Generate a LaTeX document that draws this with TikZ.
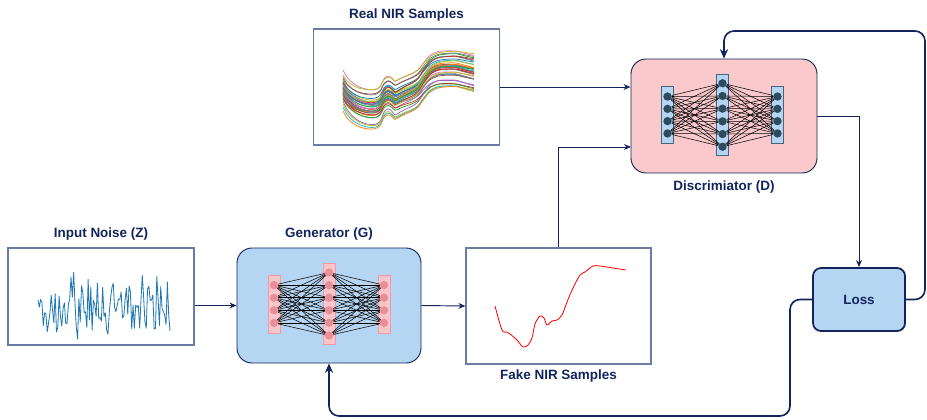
\documentclass[tikz,border=0pt]{standalone}
\usepackage{fontspec}
\setmainfont{Liberation Sans}
\usepackage{tikz}
\usetikzlibrary{arrows.meta,positioning}
\definecolor{navy}{HTML}{13245C}
\definecolor{plotframe}{HTML}{6A7BA6}
\definecolor{genfill}{HTML}{B5D6F2}
\definecolor{discfill}{HTML}{F9C9CC}
\definecolor{gbarfill}{HTML}{F8C6CA}
\definecolor{gbarline}{HTML}{F09CA2}
\definecolor{gdotfill}{HTML}{E98E98}
\definecolor{dbarline}{HTML}{4A6378}
\definecolor{ddotfill}{HTML}{2D4B5E}
\definecolor{tblue}{HTML}{1F77B4}
\definecolor{torange}{HTML}{FF7F0E}
\definecolor{tgreen}{HTML}{2CA02C}
\definecolor{tred}{HTML}{D62728}
\definecolor{tpurple}{HTML}{9467BD}
\definecolor{tbrown}{HTML}{8C564B}
\definecolor{tpink}{HTML}{E377C2}
\definecolor{tgray}{HTML}{7F7F7F}
\definecolor{tolive}{HTML}{BCBD22}
\definecolor{tcyan}{HTML}{17BECF}
\tikzset{
  plotbox/.style={draw=plotframe,line width=0.9pt,fill=white,inner sep=0pt},
  netbox/.style={draw=navy,line width=0.8pt,rounded corners=0.45cm,inner sep=0pt},
  lbl/.style={text=navy,font=\fontsize{11.5}{13}\selectfont\bfseries,inner sep=0pt},
  gbar/.style={rectangle,draw=gbarline,fill=gbarfill,line width=0.6pt,minimum width=0.36cm,inner sep=0pt},
  gdot/.style={circle,fill=gdotfill,minimum size=0.25cm,inner sep=0pt},
  dbar/.style={rectangle,draw=dbarline,fill=genfill,line width=0.6pt,minimum width=0.34cm,inner sep=0pt},
  ddot/.style={circle,fill=ddotfill,minimum size=0.25cm,inner sep=0pt},
  wire/.style={black,line width=0.45pt},
  flow/.style={draw=navy,line width=0.8pt,-{Stealth[length=6pt,width=5pt]}},
  lossflow/.style={draw=navy,line width=1.4pt,rounded corners=0.3cm,-{Stealth[length=8pt,width=7pt]}},
}

\begin{document}
\begin{tikzpicture}[x=0.03cm,y=-0.03cm]
\useasboundingbox (0,0) rectangle (927,419);
% boxes
\node (noise) [plotbox,minimum width=5.58cm,minimum height=2.91cm] at (101,296.5) {};
\node (gen) [netbox,fill=genfill,minimum width=5.52cm,minimum height=3.45cm] at (329,305.5) {};
\node (real) [plotbox,minimum width=5.58cm,minimum height=3.48cm] at (406.5,87) {};
\node (disc) [netbox,fill=discfill,minimum width=5.58cm,minimum height=3.42cm] at (724,116) {};
\node (fake) [plotbox,minimum width=5.55cm,minimum height=3.48cm] at (558.5,306) {};
\node (loss) [draw=navy,line width=1.5pt,fill=genfill,rounded corners=0.24cm,
  minimum width=2.76cm,minimum height=1.89cm,lbl] at (859,299.5) {Loss};
%
\node (noiselbl) [lbl,above=0.2cm of noise] {Input Noise (Z)};
\node (genlbl) [lbl,above=0.2cm of gen] {Generator (G)};
\node (reallbl) [lbl,above=0.22cm of real] {Real NIR Samples};
\node (disclbl) [lbl,below=0.22cm of disc] {Discrimiator (D)};
\node (fakelbl) [lbl,below=0.15cm of fake] {Fake NIR Samples};

% generator network
\node (gbarA) [gbar,minimum height=1.74cm] at (274,304) {};
\node (gbarB) [gbar,minimum height=2.43cm] at (329,304) {};
\node (gbarC) [gbar,minimum height=1.74cm] at (384,304) {};
\foreach \i in {1,...,4} {
  \node (gA\i) [gdot] at (274,{304+(\i-2.5)*12.6}) {};
  \node (gC\i) [gdot] at (384,{304+(\i-2.5)*12.6}) {};
}
\foreach \j in {1,...,6}
  \node (gB\j) [gdot] at (329,{304+(\j-3.5)*12.6}) {};
\foreach \i in {1,...,4}
  \foreach \j in {1,...,6}
    \draw[wire] (gA\i) -- (gB\j) (gB\j) -- (gC\i);

% discriminator network
\node (dbarA) [dbar,minimum height=1.71cm] at (667.5,115) {};
\node (dbarB) [dbar,minimum height=2.43cm] at (722.5,115) {};
\node (dbarC) [dbar,minimum height=1.71cm] at (777.5,115) {};
\foreach \i in {1,...,4} {
  \node (dA\i) [ddot] at (667.5,{115+(\i-2.5)*12.3}) {};
  \node (dC\i) [ddot] at (777.5,{115+(\i-2.5)*12.3}) {};
}
\foreach \j in {1,...,6}
  \node (dB\j) [ddot] at (722.5,{115+(\j-3.5)*12.7}) {};
\foreach \i in {1,...,4}
  \foreach \j in {1,...,6}
    \draw[wire] (dA\i) -- (dB\j) (dB\j) -- (dC\i);

% noise signal
\pgfmathsetseed{11}
\draw[tblue,line width=0.7pt,line join=round] (38,300)
  \foreach \k in {1,...,100} { -- ({38+1.32*\k},{305+20*(rand+rand)}) };

% real spectra
\pgfmathsetseed{5}
\foreach \d/\c in {0/tpink,5/tolive,7/tgray,9/tbrown,10/tcyan,11/tolive,12/tblue,
  12.5/tgreen,13/tred,14/tpurple,14.5/tbrown,15/tpink,15.5/tgray,16/tolive,
  16.5/tcyan,17/tblue,17.5/torange,18/tgreen,18.5/tred,19/tpurple,19.5/tbrown,
  20/tpink,20.5/tgray,21/tolive,21.5/tcyan,22/tblue,22.5/torange,23/tgreen,
  23.5/tred,24/tpurple,25/tbrown,26/tgray,27/tolive,28/tred,29/tgreen,
  31/tpurple,34/tolive,37/tcyan,41/torange} {
  \pgfmathsetmacro\tilt{7*rand}
  \pgfmathsetmacro\amp{1+0.18*rand}
  \draw[\c,line width=0.65pt,shift={(343,{70+\d})},yslant={-\tilt/131},yscale=\amp]
    plot[smooth,tension=0.5] coordinates {
    (0,0) (4,7) (10,13) (17,17) (25,19) (32,19) (37,16) (41,8) (45,5) (49,7)
    (52,10) (56,8) (62,5) (69,2) (75,-2) (81,-10) (87,-17) (95,-21) (104,-22)
    (113,-22) (122,-20) (131,-18)};
}

% fake spectrum
\draw[red,line width=0.7pt] plot[smooth,tension=0.5] coordinates {
  (495,306) (502,330) (507,332) (510,334) (517,340) (523,347) (528,345)
  (532,338) (535,324) (540,316) (544,318) (547,325) (552,321) (557,320)
  (562,315) (567,302) (573,288) (580,275) (585,272) (593,266) (600,266)
  (613,268) (626,270)};

% connectors
\coordinate (dinb) at (631,147);
\coordinate (ltop) at (925,31);
\coordinate (lbot) at (790,416);
\draw[flow] (noise.east |- gen.west) -- (gen.west);
\draw[flow] (gen.east) -- (fake.west);
\draw[flow] (real.east) -- (real.east -| disc.west);
\draw[flow] (fake.north) |- (dinb);
\draw[flow] (disc.east) -| (loss.north);
\draw[lossflow] (loss.east) -| (ltop) -| (disc.north);
\draw[lossflow] (loss.west) -| (lbot) -| (gen.south);
\end{tikzpicture}
\end{document}
